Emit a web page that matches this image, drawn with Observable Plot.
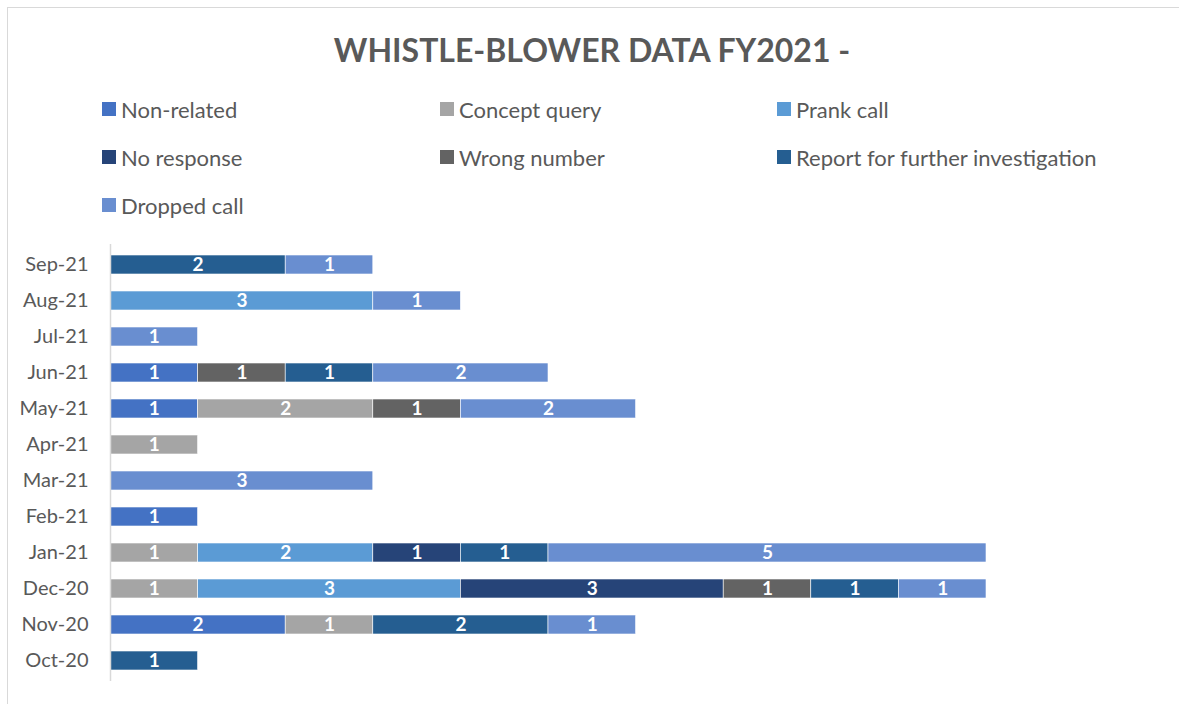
<!DOCTYPE html>
<html>
<head>
<meta charset="utf-8">
<script src="https://cdn.jsdelivr.net/npm/d3@7"></script>
<script src="https://cdn.jsdelivr.net/npm/@observablehq/plot@0.6"></script>
<style>
  body { margin: 0; background: #fff; font-family: Lato, "Open Sans", sans-serif; }
  #wrap { position: relative; width: 1179px; height: 704px; overflow: hidden; }
  #frame { position: absolute; left: 7px; top: 7px; width: 1200px; height: 720px; border: 1.5px solid #d9d9d9; box-sizing: border-box; }
  #title { position: absolute; left: 0; width: 1184px; top: 30px; text-align: center; font-weight: bold; font-size: 32px; color: #595959; }
  .leg { position: absolute; display: flex; align-items: center; font-size: 22px; color: #595959; white-space: nowrap; }
  .sw { width: 14px; height: 14px; margin-right: 5px; }
  #chart { position: absolute; left: 0; top: 230px; }
</style>
</head>
<body>
<div id="wrap">
  <div id="frame"></div>
  <div id="title">WHISTLE-BLOWER DATA FY2021 -</div>
  <div id="legend"></div>
  <div id="chart"></div>
</div>
<script>
const months = ["Oct-20","Nov-20","Dec-20","Jan-21","Feb-21","Mar-21","Apr-21","May-21","Jun-21","Jul-21","Aug-21","Sep-21"];
const seriesNames = ["Non-related","Concept query","Prank call","No response","Wrong number","Report for further investigation","Dropped call"];
const seriesColors = ["#4472C4","#A5A5A5","#5B9BD5","#264478","#636363","#255E91","#698ED0"];
// values per month, one array per series (0 = none)
const nonRelated   = [0,2,0,0,1,0,0,1,1,0,0,0];
const conceptQuery = [0,1,1,1,0,0,1,2,0,0,0,0];
const prankCall    = [0,0,3,2,0,0,0,0,0,0,3,0];
const noResponse   = [0,0,3,1,0,0,0,0,0,0,0,0];
const wrongNumber  = [0,0,1,0,0,0,0,1,1,0,0,0];
const reportFurther= [1,2,1,1,0,0,0,0,1,0,0,2];
const droppedCall  = [0,1,1,5,0,3,0,2,2,1,1,1];
const seriesValues = [nonRelated, conceptQuery, prankCall, noResponse, wrongNumber, reportFurther, droppedCall];

const data = [];
seriesNames.forEach((s, i) => {
  months.forEach((m, j) => {
    const v = seriesValues[i][j];
    if (v > 0) data.push({month: m, series: s, value: v});
  });
});

// legend
const legend = document.getElementById("legend");
const colX = [102, 440, 777];
const rowY = [96, 144, 192];
seriesNames.forEach((s, i) => {
  const d = document.createElement("div");
  d.className = "leg";
  d.style.left = colX[i % 3] + "px";
  d.style.top = rowY[Math.floor(i / 3)] + "px";
  d.style.height = "26px";
  d.innerHTML = `<span class="sw" style="background:${seriesColors[i]}"></span><span>${s}</span>`;
  legend.appendChild(d);
});

const plot = Plot.plot({
  width: 1179,
  height: 460,
  marginLeft: 110,
  marginRight: 193,
  marginTop: 14,
  marginBottom: 9,
  style: {fontFamily: "Lato, 'Open Sans', sans-serif", background: "transparent"},
  x: {domain: [0, 10], axis: null},
  y: {domain: months.slice().reverse(), paddingInner: 0.48, paddingOuter: 0.24, label: null, tickSize: 0, tickPadding: 22},
  color: {domain: seriesNames, range: seriesColors},
  marks: [
    Plot.barX(data, Plot.stackX({y: "month", x: "value", fill: "series", z: "series", order: seriesNames, stroke: "white", strokeWidth: 0.6})),
    Plot.text(data, Plot.stackX({y: "month", x: "value", z: "series", order: seriesNames, text: d => String(d.value), fill: "white", fontWeight: "bold", fontSize: 19})),
    Plot.ruleX([0], {stroke: "#d9d9d9", strokeWidth: 1.5}),
    Plot.axisY({tickSize: 0, tickPadding: 22, fontSize: 20, color: "#595959", label: null})
  ]
});
document.getElementById("chart").appendChild(plot);
</script>
</body>
</html>
